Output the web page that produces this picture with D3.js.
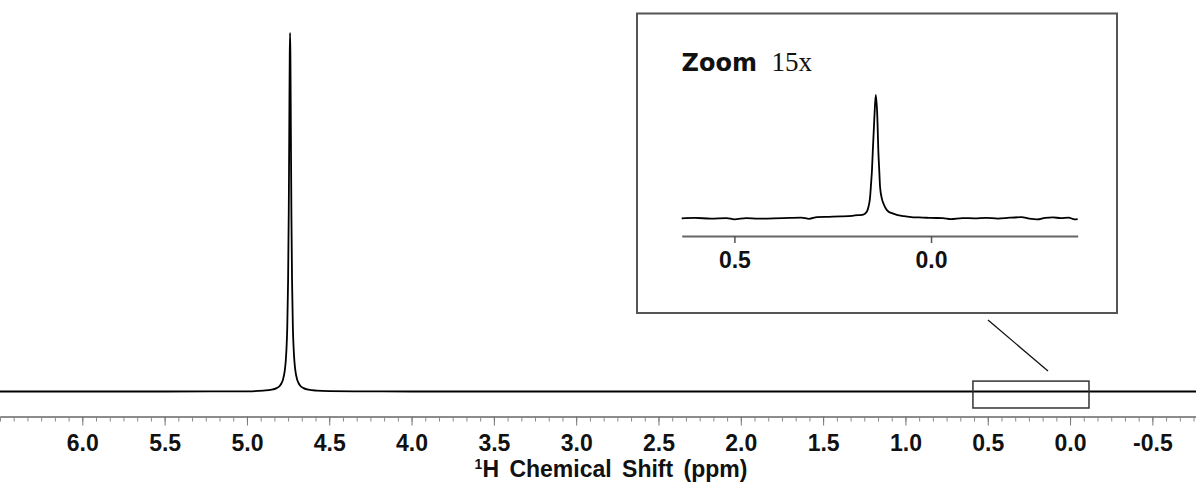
<!DOCTYPE html>
<html>
<head>
<meta charset="utf-8">
<script src="https://cdn.jsdelivr.net/npm/d3@7"></script>
<style>
  body { margin: 0; background: #fff; }
  svg { display: block; }
</style>
</head>
<body>
<script>
var width = 1196
var height = 485

// full spectrum (ppm, relative intensity, peak = 100)
var mainShift = [6.50, 6.00, 5.50, 5.00, 4.90, 4.85, 4.82, 4.80, 4.79, 4.78, 4.77, 4.765, 4.760, 4.755, 4.750, 4.746, 4.743, 4.740, 4.738,
  4.736, 4.733, 4.730, 4.726, 4.721, 4.716, 4.711, 4.706, 4.696, 4.686, 4.676, 4.656, 4.626, 4.576, 4.50, 4.30, 4.00, 3.00, 2.00, 1.00, 0.00, -0.765]
var mainIntensity = [0, 0, 0, 0.05, 0.25, 0.5, 0.95, 1.6, 2.3, 3.5, 5.9, 8.1, 11.7, 18, 31, 50, 72, 94, 100,
  94, 72, 50, 31, 18, 11.7, 8.1, 5.9, 3.5, 2.3, 1.6, 0.95, 0.5, 0.25, 0.12, 0.05, 0, 0, 0, 0, 0, 0]

// zoomed region (15x)
var insetShift = [0.634, 0.60, 0.56, 0.52, 0.50, 0.47, 0.44, 0.40, 0.36, 0.33, 0.31, 0.29, 0.26, 0.23, 0.20, 0.185, 0.172, 0.163,
  0.159, 0.155, 0.153, 0.150, 0.148, 0.144, 0.1405, 0.1365, 0.134, 0.1315, 0.1296, 0.125, 0.121, 0.115, 0.1085, 0.098, 0.087,
  0.07, 0.045, 0.02, 0.00, -0.03, -0.05, -0.08, -0.11, -0.14, -0.17, -0.20, -0.23, -0.25, -0.27, -0.29, -0.31, -0.33, -0.35, -0.365, -0.373]
var insetIntensity = [0, 0.3, -0.2, 0.2, -0.8, 0.1, -0.3, -0.1, 0.3, 0.5, -0.4, 0.9, 1.2, 1.5, 2.0, 2.5, 3.0, 5.5,
  9.4, 17, 25.6, 40, 55, 82, 100, 82, 55, 38, 25.6, 16, 12, 8, 5.5, 4, 2.8,
  1.8, 0.8, 0.6, 0.3, 0.2, -0.6, 0.2, 0, 0.4, -0.2, 0.5, 0.9, -0.3, -0.9, 0.4, 0.8, 0.1, 0.5, -0.8, -0.6]

var mainTicks = [6.0, 5.5, 5.0, 4.5, 4.0, 3.5, 3.0, 2.5, 2.0, 1.5, 1.0, 0.5, 0.0, -0.5]
var insetTicks = [0.5, 0.0]
var zoomRange = [0.59, -0.115]   // ppm window marked on the main trace
var axisTitle = "Chemical Shift (ppm)"

var svg = d3.select("body").append("svg")
  .attr("width", width)
  .attr("height", height)

var fmt = function(d) { return d.toFixed(1) }   // plain hyphen for -0.5

// main scales
var x = d3.scaleLinear().domain([6.5, -0.765]).range([0, width])
var y = d3.scaleLinear().domain([0, 100]).range([391.5, 33])

var line = d3.line()
  .x(function(d) { return x(d[0]) })
  .y(function(d) { return y(d[1]) })
  .curve(d3.curveMonotoneX)

svg.append("path")
  .datum(d3.zip(mainShift, mainIntensity))
  .attr("d", line)
  .attr("fill", "none")
  .attr("stroke", "#000")
  .attr("stroke-width", 1.8)

// minor ticks, six per half ppm
var minor = []
for (var v = 6.5; v >= -0.76; v -= 0.5 / 6) minor.push(+v.toFixed(4))

var axisY = 416.5
svg.append("g")
  .attr("transform", "translate(0," + axisY + ")")
  .call(d3.axisBottom(x).tickValues(minor).tickSize(5).tickSizeOuter(0).tickFormat(""))
  .call(function(g) { g.select(".domain").attr("stroke", "#666").attr("stroke-width", 1.5) })
  .call(function(g) { g.selectAll(".tick line").attr("stroke", "#888") })

svg.append("g")
  .attr("transform", "translate(0," + axisY + ")")
  .call(d3.axisBottom(x).tickValues(mainTicks).tickSize(9).tickPadding(9).tickSizeOuter(0).tickFormat(fmt))
  .call(function(g) { g.select(".domain").remove() })
  .call(function(g) { g.selectAll(".tick line").attr("stroke", "#777") })
  .call(function(g) {
    g.selectAll(".tick text")
      .attr("font-family", "Liberation Sans, Arial, sans-serif")
      .attr("font-weight", "bold")
      .attr("font-size", 23)
      .attr("fill", "#111")
  })

var title = svg.append("text")
  .attr("x", 611)
  .attr("y", 477)
  .attr("text-anchor", "middle")
  .attr("font-family", "Liberation Sans, Arial, sans-serif")
  .attr("font-weight", "bold")
  .attr("font-size", 23)
  .attr("word-spacing", 4)
  .attr("fill", "#111")
title.append("tspan").attr("font-size", 14).attr("dy", -8).text("1")
title.append("tspan").attr("dy", 8).text("H " + axisTitle)

// box marking the zoomed window
svg.append("rect")
  .attr("x", x(zoomRange[0]))
  .attr("y", y(2.9))
  .attr("width", x(zoomRange[1]) - x(zoomRange[0]))
  .attr("height", y(-4.6) - y(2.9))
  .attr("fill", "none")
  .attr("stroke", "#333")
  .attr("stroke-width", 1.5)

svg.append("line")
  .attr("x1", 988).attr("y1", 320)
  .attr("x2", 1048).attr("y2", 371)
  .attr("stroke", "#111")
  .attr("stroke-width", 1.3)

// inset
svg.append("rect")
  .attr("x", 637).attr("y", 13.5)
  .attr("width", 480).attr("height", 299.5)
  .attr("fill", "#fff")
  .attr("stroke", "#555")
  .attr("stroke-width", 2)

var xi = d3.scaleLinear().domain([0.634, -0.373]).range([681.7, 1077.7])
var yi = d3.scaleLinear().domain([0, 100]).range([218.3, 95])

var lineInset = d3.line()
  .x(function(d) { return xi(d[0]) })
  .y(function(d) { return yi(d[1]) })
  .curve(d3.curveMonotoneX)

svg.append("path")
  .datum(d3.zip(insetShift, insetIntensity))
  .attr("d", lineInset)
  .attr("fill", "none")
  .attr("stroke", "#000")
  .attr("stroke-width", 1.8)

svg.append("g")
  .attr("transform", "translate(0,236)")
  .call(d3.axisBottom(xi).tickValues(insetTicks).tickSize(7).tickPadding(9).tickSizeOuter(0).tickFormat(fmt))
  .call(function(g) { g.select(".domain").attr("stroke", "#666").attr("stroke-width", 2) })
  .call(function(g) { g.selectAll(".tick line").attr("stroke", "#555").attr("stroke-width", 1.5) })
  .call(function(g) {
    g.selectAll(".tick text")
      .attr("font-family", "Liberation Sans, Arial, sans-serif")
      .attr("font-weight", "bold")
      .attr("font-size", 23)
      .attr("fill", "#111")
  })

svg.append("text")
  .attr("x", 681.5).attr("y", 71)
  .attr("font-family", "DejaVu Sans, sans-serif")
  .attr("font-weight", "bold")
  .attr("font-size", 24)
  .attr("fill", "#111")
  .text("Zoom")

svg.append("text")
  .attr("x", 771.5).attr("y", 71)
  .attr("font-family", "Liberation Serif, Times New Roman, serif")
  .attr("font-size", 27)
  .attr("fill", "#111")
  .text("15x")
</script>
</body>
</html>
